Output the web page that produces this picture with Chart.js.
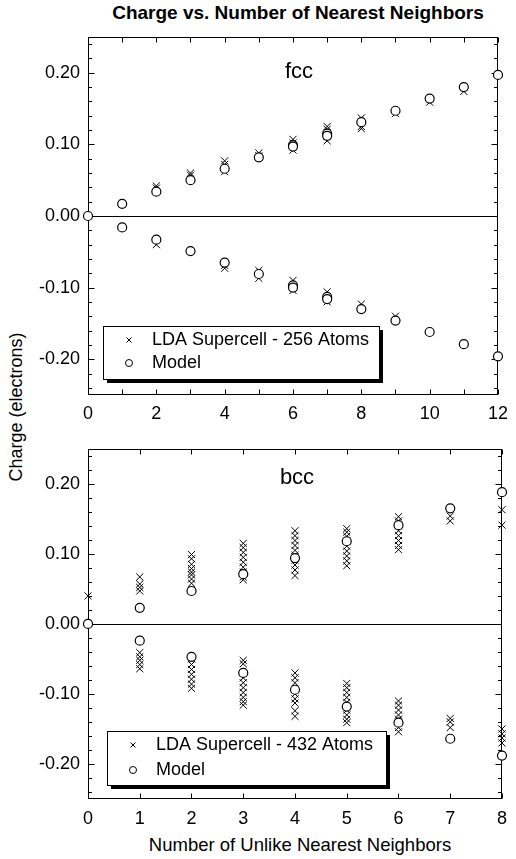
<!DOCTYPE html>
<html lang="en">
<head>
<meta charset="UTF-8">
<title>Charge vs. Number of Nearest Neighbors</title>
<style>
    body { margin: 0; background: #fff; width: 516px; height: 859px; position: relative; overflow: hidden;
           font-family: 'Liberation Sans', Arial, sans-serif; color: #000; }
    #title { position: absolute; left: 298px; top: 13px; transform: translate(-50%, -50%);
             font-weight: bold; font-size: 19px; white-space: nowrap; }
    #ylabel { position: absolute; left: 16px; top: 407px; transform: translate(-50%, -50%) rotate(-90deg);
              font-size: 18px; white-space: nowrap; }
    #xlabel { position: absolute; left: 300px; top: 845px; transform: translate(-50%, -50%);
              font-size: 18.5px; white-space: nowrap; }
    canvas { position: absolute; left: 0; }
    #fccChart { top: 0; }
    #bccChart { top: 430px; }
</style>
</head>
<body>
    <div id="title">Charge vs. Number of Nearest Neighbors</div>
    <div id="ylabel">Charge (electrons)</div>
    <div id="xlabel">Number of Unlike Nearest Neighbors</div>
    <canvas id="fccChart" width="516" height="430"></canvas>
    <canvas id="bccChart" width="516" height="429"></canvas>

    <script src="https://cdn.jsdelivr.net/npm/chart.js"></script>
    <script>
        // tick values
        const yTicks = [-0.2, -0.1, 0, 0.1, 0.2];
        const fccXTicks = [0, 2, 4, 6, 8, 10, 12];
        const bccXTicks = [0, 1, 2, 3, 4, 5, 6, 7, 8];

        // fcc panel, [unlike neighbors, charge]
        const fccLda = [
            [2, 0.042], [2, 0.039], [3, 0.060], [3, 0.057], [4, 0.077], [4, 0.072], [4, 0.062],
            [5, 0.088], [5, 0.084], [6, 0.107], [6, 0.102], [6, 0.092], [7, 0.125], [7, 0.121],
            [7, 0.112], [7, 0.105], [8, 0.137], [8, 0.125], [8, 0.122], [9, 0.143], [10, 0.159],
            [11, 0.174],
            [2, -0.040], [4, -0.069], [4, -0.073], [5, -0.076], [5, -0.087], [6, -0.090], [6, -0.104],
            [7, -0.106], [7, -0.120], [8, -0.123], [9, -0.140]
        ];
        const fccModel = [
            [0, 0], [1, 0.017], [2, 0.034], [3, 0.050], [4, 0.066], [5, 0.082], [6, 0.099], [6, 0.097],
            [7, 0.115], [7, 0.112], [8, 0.131], [9, 0.147], [10, 0.164], [11, 0.180], [12, 0.197],
            [1, -0.016], [2, -0.033], [3, -0.049], [4, -0.065], [5, -0.081], [6, -0.097], [6, -0.100],
            [7, -0.113], [7, -0.116], [8, -0.130], [9, -0.146], [10, -0.162], [11, -0.179], [12, -0.196]
        ];

        // bcc panel
        const bccLda = [
            [0, 0.040],
            [1, 0.067], [1, 0.057], [1, 0.052], [1, 0.047],
            [2, 0.099], [2, 0.093], [2, 0.085], [2, 0.079], [2, 0.074], [2, 0.070], [2, 0.064], [2, 0.058],
            [3, 0.115], [3, 0.109], [3, 0.102], [3, 0.095], [3, 0.088], [3, 0.081], [3, 0.074], [3, 0.067], [3, 0.063],
            [4, 0.133], [4, 0.126], [4, 0.119], [4, 0.112], [4, 0.105], [4, 0.098], [4, 0.091], [4, 0.084], [4, 0.077], [4, 0.069],
            [5, 0.136], [5, 0.131], [5, 0.125], [5, 0.118], [5, 0.111], [5, 0.104], [5, 0.097], [5, 0.090], [5, 0.083],
            [6, 0.153], [6, 0.147], [6, 0.140], [6, 0.133], [6, 0.126], [6, 0.119], [6, 0.112], [6, 0.106],
            [7, 0.154], [7, 0.147],
            [8, 0.163], [8, 0.141],
            [1, -0.041], [1, -0.047], [1, -0.052], [1, -0.058], [1, -0.064],
            [2, -0.050], [2, -0.058], [2, -0.065], [2, -0.072], [2, -0.079], [2, -0.086], [2, -0.092],
            [3, -0.052], [3, -0.057], [3, -0.077], [3, -0.084], [3, -0.091], [3, -0.098], [3, -0.105], [3, -0.111], [3, -0.116],
            [4, -0.070], [4, -0.077], [4, -0.084], [4, -0.100], [4, -0.107], [4, -0.113], [4, -0.124], [4, -0.132],
            [5, -0.085], [5, -0.091], [5, -0.098], [5, -0.105], [5, -0.112], [5, -0.123], [5, -0.130], [5, -0.136], [5, -0.141],
            [6, -0.110], [6, -0.116], [6, -0.123], [6, -0.130], [6, -0.136], [6, -0.148], [6, -0.154],
            [7, -0.135], [7, -0.140], [7, -0.148],
            [8, -0.150], [8, -0.157], [8, -0.163], [8, -0.170]
        ];
        const bccModel = [
            [0, 0], [1, 0.023], [2, 0.047], [3, 0.071], [4, 0.094], [5, 0.118], [6, 0.141], [7, 0.165], [8, 0.188],
            [1, -0.024], [2, -0.047], [3, -0.070], [4, -0.094], [5, -0.118], [6, -0.141], [7, -0.164], [8, -0.188]
        ];

        const FONT = "'Liberation Sans', Arial, sans-serif";

        function toPoints(pairs) {
            return pairs.map(p => ({ x: p[0], y: p[1] }))
        }

        // frame, inward ticks, zero line, legend box and panel label
        function panelPlugin(g) {
            return {
                id: 'panelDeco',
                beforeDatasetsDraw(chart) {
                    const ctx = chart.ctx;
                    const a = chart.chartArea;
                    const x = chart.scales.x;
                    const y = chart.scales.y;
                    const L = Math.round(a.left) + 0.5, R = Math.round(a.right) - 0.5;
                    const T = Math.round(a.top) + 0.5, B = Math.round(a.bottom) - 0.5;
                    ctx.save();
                    ctx.strokeStyle = '#000';
                    ctx.lineWidth = 1;
                    ctx.beginPath();
                    for (let v = x.min; v <= x.max; v++) {
                        const px = Math.round(x.getPixelForValue(v)) + 0.5;
                        ctx.moveTo(px, T); ctx.lineTo(px, T + 5);
                        ctx.moveTo(px, B); ctx.lineTo(px, B - 5);
                    }
                    for (let i = -12; i <= 12; i++) {
                        const py = Math.round(y.getPixelForValue(i * 0.02)) + 0.5;
                        const len = i % 5 === 0 ? 6 : 3.5;
                        ctx.moveTo(L, py); ctx.lineTo(L + len, py);
                        ctx.moveTo(R, py); ctx.lineTo(R - len, py);
                    }
                    const zy = Math.round(y.getPixelForValue(0)) + 0.5;
                    ctx.moveTo(L, zy); ctx.lineTo(R, zy);
                    ctx.stroke();
                    ctx.strokeRect(L, T, R - L, B - T);

                    ctx.fillStyle = '#000';
                    ctx.font = '22px ' + FONT;
                    ctx.textAlign = 'center';
                    ctx.textBaseline = 'alphabetic';
                    ctx.fillText(g.name, g.nameX, g.nameY);
                    ctx.restore();
                },
                afterDraw(chart) {
                    const ctx = chart.ctx;
                    const b = g.box;
                    ctx.save();
                    ctx.fillStyle = '#000';
                    ctx.fillRect(b.x + 4, b.y + 4, b.w, b.h);
                    ctx.fillStyle = '#fff';
                    ctx.fillRect(b.x, b.y, b.w, b.h);
                    ctx.strokeStyle = '#000';
                    ctx.lineWidth = 1;
                    ctx.strokeRect(b.x + 0.5, b.y + 0.5, b.w, b.h);

                    // cross marker
                    ctx.beginPath();
                    ctx.moveTo(g.markX - 2.5, g.line1 - 2.5); ctx.lineTo(g.markX + 2.5, g.line1 + 2.5);
                    ctx.moveTo(g.markX - 2.5, g.line1 + 2.5); ctx.lineTo(g.markX + 2.5, g.line1 - 2.5);
                    ctx.stroke();
                    // circle marker
                    ctx.beginPath();
                    ctx.arc(g.markX, g.line2, 3.5, 0, Math.PI * 2);
                    ctx.stroke();

                    ctx.fillStyle = '#000';
                    ctx.font = '18px ' + FONT;
                    ctx.textAlign = 'left';
                    ctx.textBaseline = 'middle';
                    ctx.fillText(g.ldaText, g.textX, g.line1);
                    ctx.fillText('Model', g.textX, g.line2);
                    ctx.restore();
                }
            }
        }

        function getPanelConfig(model, lda, xMax, xTicks, g) {
            return {
                type: 'scatter',
                data: {
                    datasets: [{
                        label: 'Model',
                        data: toPoints(model),
                        pointStyle: 'circle',
                        pointRadius: 4.5,
                        pointBorderWidth: 1.2,
                        borderColor: '#000',
                        backgroundColor: '#fff',
                        clip: false
                    }, {
                        label: g.ldaText,
                        data: toPoints(lda),
                        pointStyle: 'crossRot',
                        pointRadius: 5,
                        pointBorderWidth: 1,
                        borderColor: '#000',
                        backgroundColor: '#000',
                        clip: false
                    }]
                },
                options: {
                    responsive: false,
                    animation: false,
                    devicePixelRatio: 1,
                    layout: { padding: { top: g.padTop, right: g.padRight, left: 0, bottom: 0 } },
                    plugins: { legend: { display: false }, tooltip: { enabled: false } },
                    scales: {
                        x: {
                            type: 'linear', min: 0, max: xMax,
                            grid: { display: false, drawTicks: false },
                            border: { display: false },
                            afterBuildTicks: s => { s.ticks = xTicks.map(v => ({ value: v })) },
                            afterFit: s => { s.height = g.xHeight },
                            ticks: {
                                autoSkip: false, maxRotation: 0, padding: g.xPad, color: '#000',
                                font: { family: FONT, size: 18 },
                                callback: v => String(v)
                            }
                        },
                        y: {
                            type: 'linear', min: -0.25, max: 0.25,
                            grid: { display: false, drawTicks: false },
                            border: { display: false },
                            afterBuildTicks: s => { s.ticks = yTicks.map(v => ({ value: v })) },
                            afterFit: s => { s.width = 88 },
                            ticks: {
                                padding: 8, color: '#000',
                                font: { family: FONT, size: 18 },
                                callback: v => v.toFixed(2)
                            }
                        }
                    }
                },
                plugins: [panelPlugin(g)]
            }
        }

        const fccGeom = {
            padTop: 37, padRight: 10, xHeight: 35, xPad: 8,
            name: 'fcc', nameX: 299, nameY: 78,
            box: { x: 103, y: 326, w: 276, h: 53 },
            markX: 129, textX: 152, line1: 340, line2: 363,
            ldaText: 'LDA Supercell - 256 Atoms'
        };
        const bccGeom = {
            padTop: 11, padRight: 8, xHeight: 60, xPad: 9,
            name: 'bcc', nameX: 297, nameY: 54,
            box: { x: 107, y: 301, w: 279, h: 54 },
            markX: 133, textX: 156, line1: 315, line2: 340,
            ldaText: 'LDA Supercell - 432 Atoms'
        };

        const fccChart = new Chart(document.getElementById('fccChart'),
            getPanelConfig(fccModel, fccLda, 12, fccXTicks, fccGeom));
        const bccChart = new Chart(document.getElementById('bccChart'),
            getPanelConfig(bccModel, bccLda, 8, bccXTicks, bccGeom));
    </script>
</body>
</html>
